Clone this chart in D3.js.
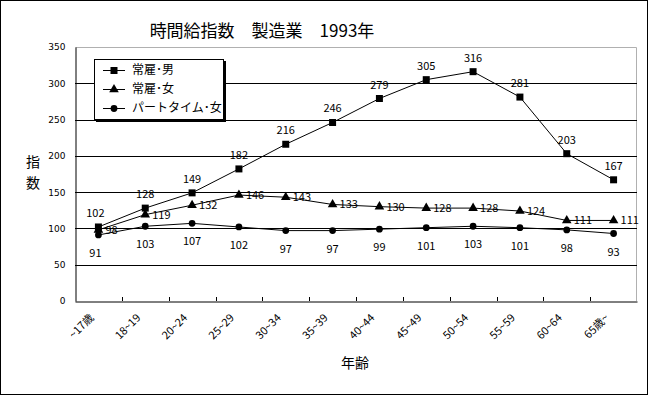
<html>
<head>
<meta charset="utf-8">
<title>時間給指数 製造業 1993年</title>
<script src="https://d3js.org/d3.v7.min.js"></script>
<style>
  body { margin: 0; background: #fff; }
  text { font-family: "Noto Sans CJK JP", "DejaVu Sans", sans-serif; }
</style>
</head>
<body>
<svg width="650" height="397"></svg>
<script>
var ages = ["~17歳", "18~19", "20~24", "25~29", "30~34", "35~39", "40~44", "45~49", "50~54", "55~59", "60~64", "65歳~"];
var male = [102, 128, 149, 182, 216, 246, 279, 305, 316, 281, 203, 167];
var female = [98, 119, 132, 146, 143, 133, 130, 128, 128, 124, 111, 111];
var partTime = [91, 103, 107, 102, 97, 97, 99, 101, 103, 101, 98, 93];
var seriesNames = ["常雇･男", "常雇･女", "パートタイム･女"];
var yTicks = [0, 50, 100, 150, 200, 250, 300, 350];

var svg = d3.select("svg"),
    margin = {top: 47, right: 13, bottom: 96, left: 75},
    width = 650 - margin.left - margin.right,
    height = 397 - margin.top - margin.bottom;

// outer frame
svg.append("rect").attr("x", 0.5).attr("y", 0.5).attr("width", 647).attr("height", 394)
   .attr("fill", "#fff").attr("stroke", "#000");

svg.append("text").attr("x", 262).attr("y", 37).attr("text-anchor", "middle")
   .style("font-size", "17px").text("時間給指数　製造業　1993年");

var g = svg.append("g").attr("transform", `translate(${margin.left},${margin.top})`);

var x = d3.scaleBand().domain(ages).range([0, width]);
var y = d3.scaleLinear().domain([0, 350]).range([height, 0]);

// plot border (grey top/right)
g.append("path").attr("d", `M0.5,0.5H${width - 0.5}V${height}`)
  .attr("fill", "none").attr("stroke", "#b0b0b0");

// gridlines
g.selectAll(".grid").data(yTicks.filter(d => d > 0 && d < 350)).enter().append("line")
  .attr("x1", 0).attr("x2", width)
  .attr("y1", d => Math.round(y(d)) + 0.5).attr("y2", d => Math.round(y(d)) + 0.5)
  .attr("stroke", "#000");

// y axis
var yAxis = g.append("g").attr("transform", "translate(0.5,0)")
  .call(d3.axisLeft(y).tickValues(yTicks).tickSize(0).tickSizeOuter(0));
yAxis.select(".domain").attr("stroke", "#000");
yAxis.selectAll(".tick line").remove();
yAxis.selectAll("text").attr("x", -10).attr("fill", "#000")
  .style("font-size", "9px").style("font-family", "'DejaVu Sans', sans-serif");

// x axis
var xAxis = g.append("g").attr("transform", `translate(0,${Math.round(height) + 0.5})`)
  .call(d3.axisBottom(x).tickSize(0));
xAxis.select(".domain").attr("stroke", "#000");
xAxis.selectAll(".tick line").remove();
g.selectAll(".xtick").data(ages.slice(1)).enter().append("line")
  .attr("x1", d => Math.round(x(d)) + 0.5).attr("x2", d => Math.round(x(d)) + 0.5)
  .attr("y1", height).attr("y2", height - 4).attr("stroke", "#000");
xAxis.selectAll("text")
  .style("font-size", "11px").attr("fill", "#000")
  .attr("text-anchor", "end")
  .attr("dy", null).attr("y", 0)
  .attr("transform", "translate(-4,17) rotate(-45)");

// axis titles
svg.append("text").attr("x", 355).attr("y", 368).attr("text-anchor", "middle")
  .style("font-size", "14px").text("年齢");
svg.append("text").attr("x", 33).attr("y", 167).attr("text-anchor", "middle")
  .style("font-size", "14px").text("指");
svg.append("text").attr("x", 33).attr("y", 188).attr("text-anchor", "middle")
  .style("font-size", "14px").text("数");

var line = d3.line().x((d, i) => x(ages[i]) + x.bandwidth() / 2).y(d => y(d));
var cx = i => x(ages[i]) + x.bandwidth() / 2;

var sq = d3.symbol().type(d3.symbolSquare).size(49);
var tri = d3.symbol().type(d3.symbolTriangle).size(40);
var cir = d3.symbol().type(d3.symbolCircle).size(36);
var symbols = [sq, tri, cir];
var allSeries = [male, female, partTime];

allSeries.forEach(function(s, k) {
  g.append("path").datum(s).attr("d", line).attr("fill", "none").attr("stroke", "#000").attr("stroke-width", 1);
  g.selectAll(".m" + k).data(s).enter().append("path")
    .attr("transform", (d, i) => `translate(${cx(i)},${y(d)})`)
    .attr("d", symbols[k]).attr("fill", "#000");
});

// data labels
g.selectAll(".lm").data(male).enter().append("text")
  .attr("x", (d, i) => cx(i) - (i == 0 ? 3 : 0)).attr("y", d => y(d) - 10)
  .attr("text-anchor", "middle").style("font-size", "11px").text(d => d);
g.selectAll(".lf").data(female).enter().append("text")
  .attr("x", (d, i) => cx(i) + 7).attr("y", d => y(d) + 4)
  .attr("text-anchor", "start").style("font-size", "11px").text(d => d);
g.selectAll(".lp").data(partTime).enter().append("text")
  .attr("x", (d, i) => cx(i) - (i == 0 ? 3 : 0)).attr("y", d => y(d) + 22)
  .attr("text-anchor", "middle").style("font-size", "11px").text(d => d);

// legend
var lg = svg.append("g").attr("transform", "translate(94,59)");
lg.append("rect").attr("x", 2).attr("y", 2).attr("width", 130).attr("height", 61).attr("fill", "#000");
lg.append("rect").attr("x", 0.5).attr("y", 0.5).attr("width", 129).attr("height", 60)
  .attr("fill", "#fff").attr("stroke", "#000");
seriesNames.forEach(function(n, k) {
  var yy = 11 + k * 19;
  lg.append("line").attr("x1", 9).attr("x2", 31).attr("y1", yy + 0.5).attr("y2", yy + 0.5).attr("stroke", "#000");
  lg.append("path").attr("transform", `translate(20,${yy + 0.5})`).attr("d", symbols[k]).attr("fill", "#000");
  lg.append("text").attr("x", 38).attr("y", yy + 4).style("font-size", "12px").text(n);
});
</script>
</body>
</html>
